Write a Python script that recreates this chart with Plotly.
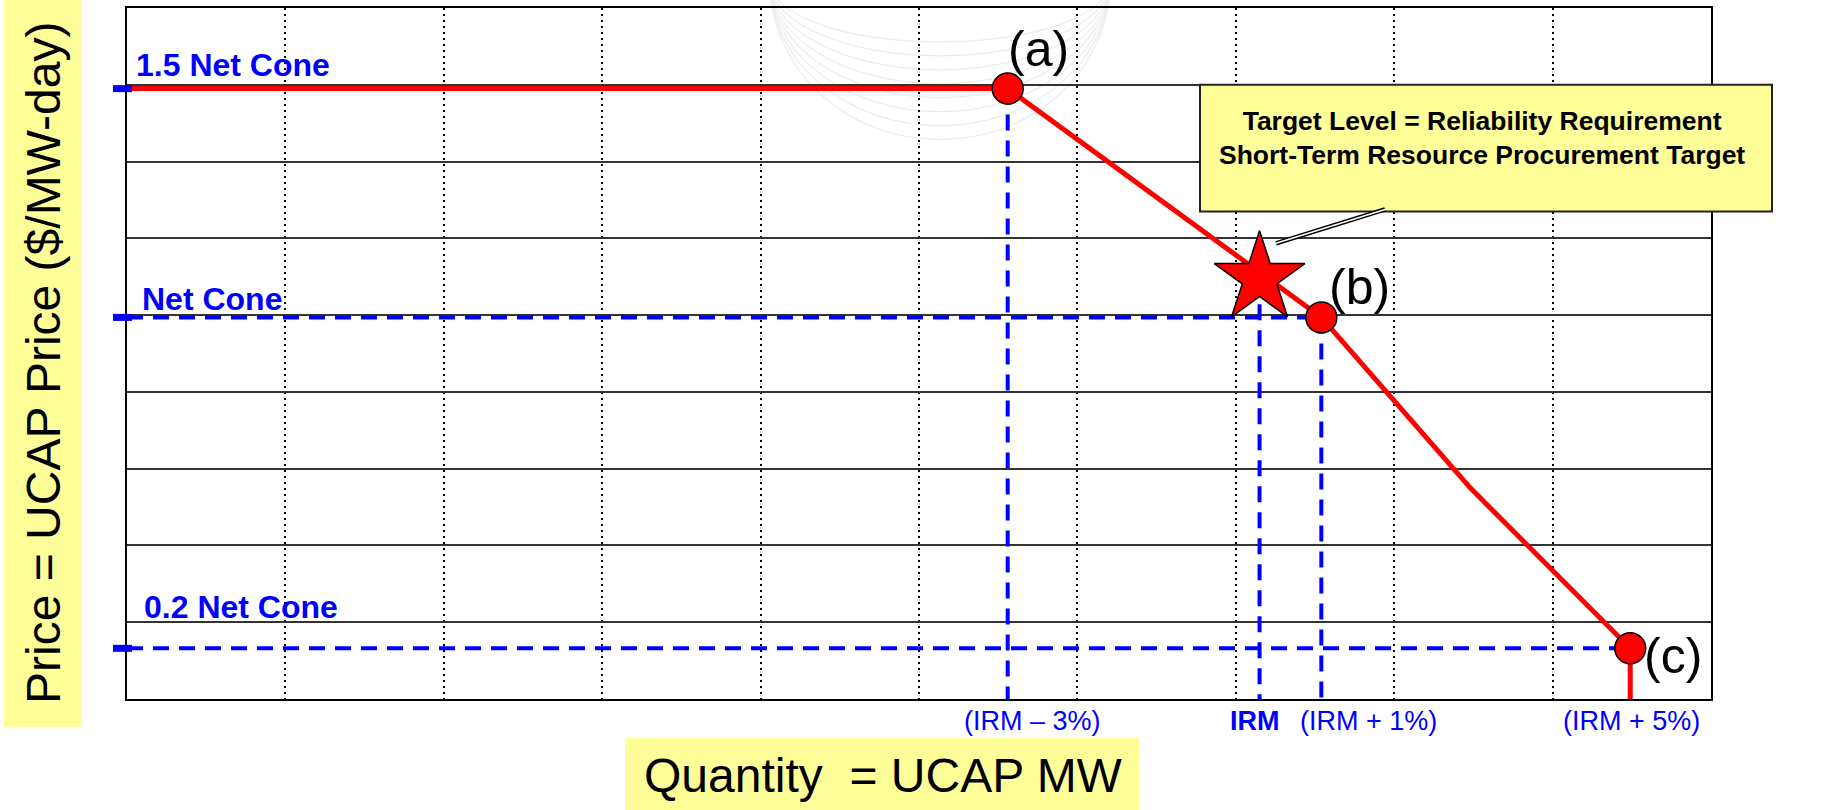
import plotly.graph_objects as go

# ── Data (unitless axes, gridlines at integers) ───────────────────────────────
LEVEL_NAMES = ["1.5 Net Cone", "Net Cone", "0.2 Net Cone"]
LEVEL_PRICE = [7.95, 4.97, 0.66]

CURVE_QTY = [0, 5.56, 7.54, 8.48, 9.49, 9.49]
CURVE_PRICE = [7.95, 7.95, 4.97, 2.75, 0.66, 0]

POINT_NAMES = ["(a)", "(b)", "(c)"]
POINT_QTY = [5.56, 7.54, 9.49]
POINT_PRICE = [7.95, 4.97, 0.66]

IRM_QTY = [7.15]
IRM_PRICE = [5.48]

QTY_LABELS = ["(IRM – 3%)", "IRM", "(IRM + 1%)", "(IRM + 5%)"]
QTY_LABEL_AT = [5.56, 7.15, 7.54, 9.49]

# ── Canvas / style ────────────────────────────────────────────────────────────
W, H = 1822, 810
ML, MR, MT, MB = 127, 111, 6, 111
PW, PH = W - ML - MR, H - MT - MB

FONT = "Arial, 'Liberation Sans', sans-serif"
RED = "#FF0000"
BLUE = "#0000FF"
YELLOW = "#FFFF99"
DASH = "16px,10px"


def px(x):
    return (x - ML) / PW


def py(y):
    return (H - MB - y) / PH


fig = go.Figure()

# vertical dashed drops: (a), IRM star, (b)
vx, vy = [], []
for q, p in zip([POINT_QTY[0], IRM_QTY[0], POINT_QTY[1]],
                [POINT_PRICE[0], IRM_PRICE[0], POINT_PRICE[1]]):
    vx += [q, q, None]
    vy += [p, 0, None]
fig.add_trace(go.Scatter(x=vx, y=vy, mode="lines",
                         line=dict(color=BLUE, width=4, dash=DASH),
                         hoverinfo="skip"))

# horizontal dashed levels: Net Cone -> (b), 0.2 Net Cone -> (c)
hx, hy = [], []
for q, p in zip(POINT_QTY[1:], LEVEL_PRICE[1:]):
    hx += [0, q, None]
    hy += [p, p, None]
fig.add_trace(go.Scatter(x=hx, y=hy, mode="lines",
                         line=dict(color=BLUE, width=4, dash=DASH),
                         hoverinfo="skip"))

# demand curve
fig.add_trace(go.Scatter(x=CURVE_QTY, y=CURVE_PRICE, mode="lines",
                         line=dict(color=RED, width=5)))

# (a) (b) (c) points
fig.add_trace(go.Scatter(x=POINT_QTY, y=POINT_PRICE, mode="markers",
                         marker=dict(size=31, color=RED,
                                     line=dict(color="black", width=1.5)),
                         cliponaxis=False))

# target level star
fig.add_trace(go.Scatter(x=IRM_QTY, y=IRM_PRICE, mode="markers",
                         marker=dict(symbol="star", size=68, color=RED,
                                     line=dict(color="black", width=1.5)),
                         cliponaxis=False))

shapes = []
# faint decorative arcs behind the grid
for k in range(8):
    ry = 60 + 14 * k
    shapes.append(dict(type="circle", xref="paper", yref="paper", layer="below",
                       x0=px(770), x1=px(1110), y0=py(-20 + ry), y1=py(-20 - ry),
                       line=dict(color="#ececec", width=1.2)))
# short blue ticks left of the axis
for p in LEVEL_PRICE:
    shapes.append(dict(type="line", xref="paper", yref="y",
                       x0=px(113), x1=px(132), y0=p, y1=p,
                       line=dict(color=BLUE, width=7)))
# callout box and double leader line
shapes.append(dict(type="rect", xref="paper", yref="paper", layer="above",
                   x0=px(1200), x1=px(1772), y0=py(210), y1=py(83),
                   fillcolor=YELLOW, line=dict(color="#222", width=2)))
shapes.append(dict(type="line", xref="paper", yref="paper",
                   x0=px(1385), y0=py(208), x1=px(1276), y1=py(242),
                   line=dict(color="black", width=4.5)))
shapes.append(dict(type="line", xref="paper", yref="paper",
                   x0=px(1385), y0=py(208), x1=px(1276), y1=py(242),
                   line=dict(color="white", width=1.5)))
# yellow axis-title boxes
shapes.append(dict(type="rect", xref="paper", yref="paper", layer="below",
                   x0=px(4), x1=px(82), y0=py(727), y1=py(-2),
                   fillcolor=YELLOW, line_width=0))
shapes.append(dict(type="rect", xref="paper", yref="paper", layer="below",
                   x0=px(625), x1=px(1139), y0=py(812), y1=py(738),
                   fillcolor=YELLOW, line_width=0))

annotations = []
# level names
for name, (lx, ly) in zip(LEVEL_NAMES, [(134, 63), (140, 298), (142, 607)]):
    annotations.append(dict(text=f"<b>{name}</b>", xref="paper", yref="paper",
                            x=px(lx), y=py(ly), xanchor="left", yanchor="middle",
                            showarrow=False, font=dict(family=FONT, size=32, color=BLUE)))
# point names
for name, q, p, (dx, dy) in zip(POINT_NAMES, POINT_QTY, POINT_PRICE,
                                [(31, 40), (38, 30), (43, -8)]):
    annotations.append(dict(text=name, x=q, y=p, xshift=dx, yshift=dy,
                            showarrow=False,
                            font=dict(family=FONT, size=50, color="black")))
# quantity labels under the axis
for lab, q, dx in zip(QTY_LABELS, QTY_LABEL_AT, [25, -5, 47, 1]):
    txt = f"<b>{lab}</b>" if lab == "IRM" else lab
    annotations.append(dict(text=txt, x=q, xref="x", y=0, yref="paper",
                            xshift=dx, yshift=-22, yanchor="middle",
                            showarrow=False,
                            font=dict(family=FONT, size=27, color=BLUE)))
# callout text
annotations.append(dict(
    text="<b>Target Level = Reliability Requirement<br>"
         "Short-Term Resource Procurement Target</b>",
    xref="paper", yref="paper", x=px(1482), y=py(136),
    xanchor="center", yanchor="middle", showarrow=False,
    font=dict(family=FONT, size=26.5, color="black")))
# axis titles
annotations.append(dict(text="Price = UCAP Price ($/MW-day)", textangle=-90,
                        xref="paper", yref="paper", x=px(44), y=py(362),
                        xanchor="center", yanchor="middle", showarrow=False,
                        font=dict(family=FONT, size=48, color="black")))
annotations.append(dict(text="Quantity&nbsp; = UCAP MW",
                        xref="paper", yref="paper", x=px(883), y=py(776),
                        xanchor="center", yanchor="middle", showarrow=False,
                        font=dict(family=FONT, size=48, color="black")))

fig.update_layout(
    width=W, height=H, autosize=False,
    margin=dict(l=ML, r=MR, t=MT, b=MB),
    paper_bgcolor="white", plot_bgcolor="white",
    showlegend=False,
    xaxis=dict(range=[0, 10], dtick=1, tick0=0, showticklabels=False, ticks="",
               showgrid=True, gridcolor="black", gridwidth=2, griddash="2px,4px",
               zeroline=False, showline=True, mirror=True,
               linecolor="black", linewidth=2, fixedrange=True),
    yaxis=dict(range=[0, 9], dtick=1, tick0=0, showticklabels=False, ticks="",
               showgrid=True, gridcolor="#333333", gridwidth=1.5,
               zeroline=False, showline=True, mirror=True,
               linecolor="black", linewidth=2, fixedrange=True),
    shapes=shapes,
    annotations=annotations,
)

# drop the default 8px body margin so the figure sits at the window origin
fig.write_html("out.html", config={"displayModeBar": False},
               post_script="document.body.style.margin='0';")
